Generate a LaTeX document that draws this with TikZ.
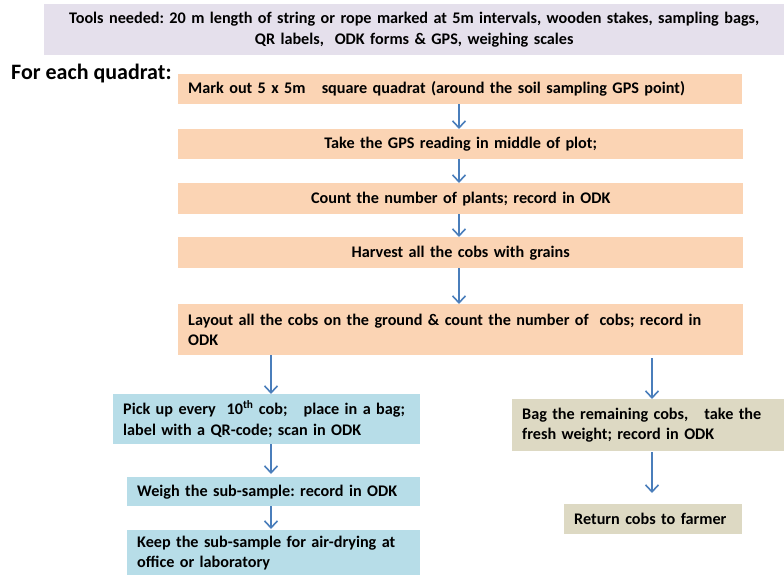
\documentclass[tikz,border=0pt]{standalone}
\usepackage{fontspec}
\setmainfont{Carlito}
\frenchspacing
\usetikzlibrary{arrows.meta}
\definecolor{toolsfill}{HTML}{E5E0EC}
\definecolor{stepfill}{HTML}{FBD4B4}
\definecolor{subfill}{HTML}{B7DDE8}
\definecolor{restfill}{HTML}{DDD9C3}
\definecolor{arrowblue}{HTML}{4A7EBB}
\tikzset{
  box/.style={rectangle, anchor=north west, inner xsep=10pt, inner ysep=0pt,
    font=\bfseries\fontsize{16.2}{20.5}\selectfont},
  stepbox/.style={box, fill=stepfill},
  subbox/.style={box, fill=subfill},
  restbox/.style={box, fill=restfill},
  flow/.style={draw=arrowblue, line width=1.8pt, -{Straight Barb[length=7pt,width=13pt,line width=1.6pt]}},
}
\begin{document}
\begin{tikzpicture}[x=1pt,y=-1pt]
\useasboundingbox (0,0) rectangle (784,575);

% equipment list
\node[box, fill=toolsfill, minimum width=740pt, minimum height=51pt,
      text width=730pt, inner xsep=5pt, align=center] (tools) at (44,4)
  {Tools needed: 20 m length of string or rope marked at 5m intervals, wooden stakes, sampling bags,\\
   QR labels,\ \ ODK forms \& GPS, weighing scales};

\node[anchor=base west, inner sep=0pt, font=\bfseries\fontsize{22}{26}\selectfont] (each) at (11,80)
  {For each quadrat:};

% main sequence for the quadrat
\node[stepbox, minimum width=564pt, minimum height=30pt, text width=544pt, align=left] (mark) at (178,74)
  {Mark out 5 x 5m\ \ \ square quadrat (around the soil sampling GPS point)};
\node[stepbox, minimum width=565pt, minimum height=30pt, text width=545pt, align=center] (gps) at (178,129)
  {Take the GPS reading in middle of plot;};
\node[stepbox, minimum width=565pt, minimum height=31pt, text width=545pt, align=center] (count) at (178,183)
  {Count the number of plants; record in ODK};
\node[stepbox, minimum width=565pt, minimum height=31pt, text width=545pt, align=center] (harvest) at (178,237)
  {Harvest all the cobs with grains};
\node[stepbox, minimum width=565pt, minimum height=51pt, text width=545pt, align=left] (layout) at (178,304)
  {Layout all the cobs on the ground \& count the number of\ \ cobs; record in\\ODK};

% sub-sample branch
\node[subbox, minimum width=307pt, minimum height=50pt, text width=287pt, align=left] (pick) at (113,394)
  {Pick up every\ \ 10\textsuperscript{th} cob;\ \ \ place in a bag;\\label with a QR-code; scan in ODK};
\node[subbox, minimum width=293pt, minimum height=29pt, text width=273pt, align=left] (weigh) at (127,477)
  {Weigh the sub-sample: record in ODK};
\node[subbox, minimum width=293pt, minimum height=46pt, text width=273pt, align=left] (keep) at (127,530)
  {Keep the sub-sample for air-drying at\\office or laboratory};

% remaining cobs branch
\node[restbox, minimum width=272pt, minimum height=52pt, text width=252pt, align=left] (bag) at (512,399)
  {Bag the remaining cobs,\ \ \ take the\\fresh weight; record in ODK};
\node[restbox, minimum width=178pt, minimum height=30pt, text width=158pt, align=left] (ret) at (564,504)
  {Return cobs to farmer};

% connector columns
\coordinate (cmain) at (459,0);
\coordinate (cleft) at (271,0);
\coordinate (cright) at (652,0);

\draw[flow] (mark.south -| cmain) -- (gps.north -| cmain);
\draw[flow] (gps.south -| cmain) -- (count.north -| cmain);
\draw[flow] (count.south -| cmain) -- (harvest.north -| cmain);
\draw[flow] (harvest.south -| cmain) -- (layout.north -| cmain);
\draw[flow] (layout.south -| cleft) -- (pick.north -| cleft);
\draw[flow, shorten <=3pt] (layout.south -| cright) -- (bag.north -| cright);
\draw[flow] (pick.south -| cleft) -- ([yshift=3pt]weigh.north -| cleft);
\draw[flow] (weigh.south -| cleft) -- ([yshift=1pt]keep.north -| cleft);
\draw[flow, shorten <=1pt, shorten >=11pt] (bag.south -| cright) -- (ret.north -| cright);
\end{tikzpicture}
\end{document}
